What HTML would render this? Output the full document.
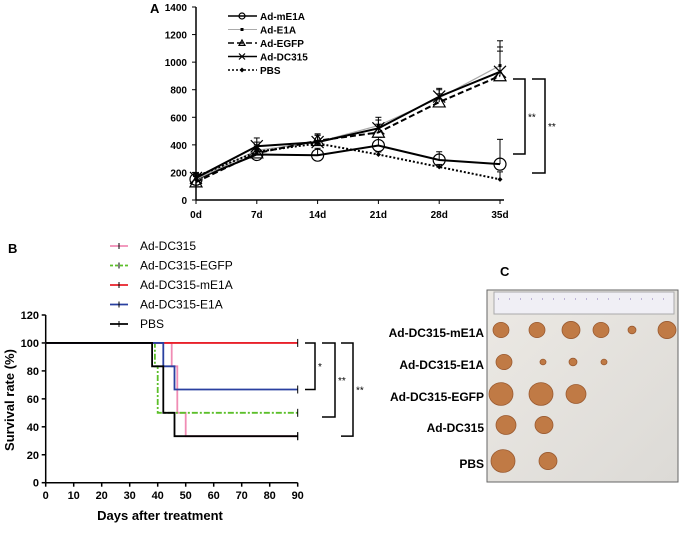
<!DOCTYPE html>
<html><head><meta charset="utf-8"><style>
body{margin:0;background:#fff;width:680px;height:533px;overflow:hidden;font-family:"Liberation Sans",Arial,sans-serif}
svg{position:absolute;left:0;top:0}
</style></head><body>
<svg id="fig" width="680" height="533">
<defs><linearGradient id="bg" x1="0" y1="0" x2="1" y2="1"><stop offset="0" stop-color="#ece9e4"/><stop offset="1" stop-color="#dcdad6"/></linearGradient></defs>
<text x="150" y="13" font-size="13" font-weight="bold">A</text>
<text x="8" y="253" font-size="13" font-weight="bold">B</text>
<text x="500" y="276" font-size="13" font-weight="bold">C</text>
<g id="pa"></g>
<g id="pb"></g>
<g id="pc">
<rect x="487" y="290" width="191" height="192" fill="url(#bg)" stroke="#666" stroke-width="1"/>
<rect x="494" y="292" width="180" height="22" fill="#f0eff5" stroke="#aaa"/>
<line x1="498" y1="299" x2="670" y2="299" stroke="#8a7ab8" stroke-width="1" stroke-dasharray="1,10"/>
</g>
</svg>
<script>
const NS="http://www.w3.org/2000/svg";
function mk(p,t,a){const e=document.createElementNS(NS,t);for(const k in a)e.setAttribute(k,a[k]);p.appendChild(e);return e;}
// ---------- Panel A data ----------
const daysA=["0d","7d","14d","21d","28d","35d"];
const ticksA=[0,200,400,600,800,1000,1200,1400];
const mE1A=[150,330,325,395,290,260];
const E1A=[150,360,420,540,740,975];
const EGFP=[130,340,430,490,710,900];
const DC315=[160,390,420,520,750,930];
const PBS=[170,350,410,330,240,150];
const errA=[40,60,50,60,60,180];
const pa=document.getElementById('pa');
const ax=i=>196+i*60.8, ay=v=>200-v*(193/1400);
let e=mk(pa,'line',{x1:196,y1:ay(1400),x2:196,y2:200,stroke:'#000','stroke-width':1.5});

e=mk(pa,'line',{x1:196,y1:200,x2:ax(5)+4,y2:200,stroke:'#000','stroke-width':1.5});

ticksA.forEach(v=>{mk(pa,'line',{x1:192,y1:ay(v),x2:196,y2:ay(v),stroke:'#000'});
 const t=mk(pa,'text',{x:187,y:ay(v)+4,'font-size':10,'font-weight':'bold','text-anchor':'end'});t.textContent=v;
 });
daysA.forEach((d,i)=>{mk(pa,'line',{x1:ax(i),y1:200,x2:ax(i),y2:204,stroke:'#000'});
 const t=mk(pa,'text',{x:ax(i),y:218,'font-size':10,'font-weight':'bold','text-anchor':'middle'});t.textContent=d;
 });
const seriesA=[
 {n:'Ad-mE1A',d:mE1A,c:'#000',w:2,da:'',m:'o'},
 {n:'Ad-E1A',d:E1A,c:'#aaa',w:1.2,da:'',m:'s'},
 {n:'Ad-EGFP',d:EGFP,c:'#000',w:2,da:'6,3',m:'t'},
 {n:'Ad-DC315',d:DC315,c:'#000',w:2,da:'',m:'x'},
 {n:'PBS',d:PBS,c:'#000',w:2,da:'2,2',m:'d'}];
function marker(g,m,x,y,c,big){const r=big?6:3;
 if(m==='o')mk(g,'circle',{cx:x,cy:y,r:r,fill:'none',stroke:c,'stroke-width':1.2});
 else if(m==='t')mk(g,'path',{d:`M${x} ${y-r}L${x+r} ${y+r*0.8}L${x-r} ${y+r*0.8}Z`,fill:'none',stroke:c,'stroke-width':1.2});
 else if(m==='x')mk(g,'path',{d:`M${x-r} ${y-r}L${x+r} ${y+r}M${x+r} ${y-r}L${x-r} ${y+r}`,stroke:c,'stroke-width':1.2});
 else if(m==='s')mk(g,'rect',{x:x-1.5,y:y-1.5,width:3,height:3,fill:'#000'});
 else mk(g,'path',{d:`M${x} ${y-2.5}L${x+2.5} ${y}L${x} ${y+2.5}L${x-2.5} ${y}Z`,fill:c});}
seriesA.forEach(s=>{const g=mk(pa,'g',{});
 
 s.d.forEach((v,i)=>{const top=ay(v+errA[i]*(s.n==='PBS'?0.3:1));
  mk(g,'line',{x1:ax(i),y1:ay(v),x2:ax(i),y2:top,stroke:'#000','stroke-width':1});
  mk(g,'line',{x1:ax(i)-3,y1:top,x2:ax(i)+3,y2:top,stroke:'#000'});});
 mk(g,'polyline',{points:s.d.map((v,i)=>ax(i)+','+ay(v)).join(' '),fill:'none',stroke:s.c,'stroke-width':s.w,'stroke-dasharray':s.da});
 s.d.forEach((v,i)=>marker(g,s.m,ax(i),ay(v),'#000',true));});
seriesA.forEach((s,k)=>{const y=16+k*13.5;const g=mk(pa,'g',{});
 
 mk(g,'line',{x1:228,y1:y,x2:257,y2:y,stroke:s.c,'stroke-width':s.w*0.8,'stroke-dasharray':s.da});
 marker(g,s.m,242,y,'#000',false);
 const t=mk(g,'text',{x:260,y:y+4,'font-size':10,'font-weight':'bold'});t.textContent=s.n;});
function bracket(p,x1,x2,y1,y2,lab){mk(p,'path',{d:`M${x1} ${y1}H${x2}V${y2}H${x1}`,fill:'none',stroke:'#000','stroke-width':1.5});
 const t=mk(p,'text',{x:x2+3,y:(y1+y2)/2+4,'font-size':10});t.textContent=lab;
 }
bracket(pa,513,525,79,154,'**');bracket(pa,532,545,79,173,'**');
// ---------- Panel B data ----------
const ticksBx=[0,10,20,30,40,50,60,70,80,90];
const ticksBy=[0,20,40,60,80,100,120];
const kmNames=['Ad-DC315','Ad-DC315-EGFP','Ad-DC315-mE1A','Ad-DC315-E1A','PBS'];
const kmColors=['#f08cb4','#5cbf2a','#e8202a','#2a40a0','#000'];
const kmTimes=[[0,45,47,50,90],[0,39,40,90],[0,90],[0,42,46,90],[0,38,42,46,90]];
const kmSurv=[[100,83.3,50,33.3,33.3],[100,83.3,50,50],[100,100],[100,83.3,66.7,66.7],[100,83.3,50,33.3,33.3]];
const pb=document.getElementById('pb');
const bx=v=>45.7+v*(252/90), by=v=>482.7-v*(167.7/120);
mk(pb,'line',{x1:bx(0),y1:by(120),x2:bx(0),y2:by(0),stroke:'#000','stroke-width':1.5});
mk(pb,'line',{x1:bx(0),y1:by(0),x2:bx(90),y2:by(0),stroke:'#000','stroke-width':1.5});
ticksBy.forEach(v=>{mk(pb,'line',{x1:bx(0)-4,y1:by(v),x2:bx(0),y2:by(v),stroke:'#000','stroke-width':1.5});
 const t=mk(pb,'text',{x:39,y:by(v)+4,'font-size':11,'font-weight':'bold','text-anchor':'end'});t.textContent=v;
 });
ticksBx.forEach(v=>{mk(pb,'line',{x1:bx(v),y1:by(0),x2:bx(v),y2:by(0)+4,stroke:'#000','stroke-width':1.5});
 const t=mk(pb,'text',{x:bx(v),y:499,'font-size':11,'font-weight':'bold','text-anchor':'middle'});t.textContent=v;
 });
let t=mk(pb,'text',{x:160,y:520,'font-size':13,'font-weight':'bold','text-anchor':'middle'});t.textContent='Days after treatment';

t=mk(pb,'text',{x:14,y:400,'font-size':13,'font-weight':'bold','text-anchor':'middle',transform:'rotate(-90 14 400)'});t.textContent='Survival rate (%)';

kmNames.forEach((n,k)=>{const g=mk(pb,'g',{});
 
 let d=`M${bx(kmTimes[k][0])} ${by(kmSurv[k][0])}`;
 for(let i=1;i<kmTimes[k].length;i++){d+=`H${bx(kmTimes[k][i])}V${by(kmSurv[k][i])}`;}
 mk(g,'path',{d:d,fill:'none',stroke:kmColors[k],'stroke-width':1.8,'stroke-dasharray':k===1?'6,2,2,2':''});
 const te=kmTimes[k][kmTimes[k].length-1],se=kmSurv[k][kmSurv[k].length-1];
 mk(g,'line',{x1:bx(te),y1:by(se)-4,x2:bx(te),y2:by(se)+4,stroke:'#000'});
 const ly=246+k*19.5;const lg=mk(pb,'g',{});
 
 mk(lg,'line',{x1:110,y1:ly,x2:128,y2:ly,stroke:kmColors[k],'stroke-width':1.8,'stroke-dasharray':k===1?'3,2':''});
 mk(lg,'line',{x1:119,y1:ly-3,x2:119,y2:ly+3,stroke:'#000'});
 const tx=mk(lg,'text',{x:140,y:ly+4,'font-size':12});tx.textContent=n;});
bracket(pb,305,315,by(100),by(66.7),'*');bracket(pb,322,335,by(100),by(47),'**');bracket(pb,341,353,by(100),by(33.3),'**');
// ---------- Panel C ----------
const pc=document.getElementById('pc');
const rowLabels=['Ad-DC315-mE1A','Ad-DC315-E1A','Ad-DC315-EGFP','Ad-DC315','PBS'];
const rowY=[333,365,397,428,464];
const tumors=[[[501,8],[537,8],[571,9],[601,8],[632,4],[667,9]],[[504,8],[543,3],[573,4],[604,3]],[[501,12],[541,12],[576,10]],[[506,10],[544,9]],[[503,12],[548,9]]];
rowLabels.forEach((l,i)=>{const tx=mk(pc,'text',{x:484,y:rowY[i]+4,'font-size':12,'font-weight':'bold','text-anchor':'end'});tx.textContent=l;
 
 tumors[i].forEach(([x,r])=>{const c=mk(pc,'ellipse',{cx:x,cy:rowY[i]-3,rx:r,ry:r*0.95,fill:'#c07a45',stroke:'#9a5a30','stroke-width':0.8});
  });});
</script>
</body></html>
